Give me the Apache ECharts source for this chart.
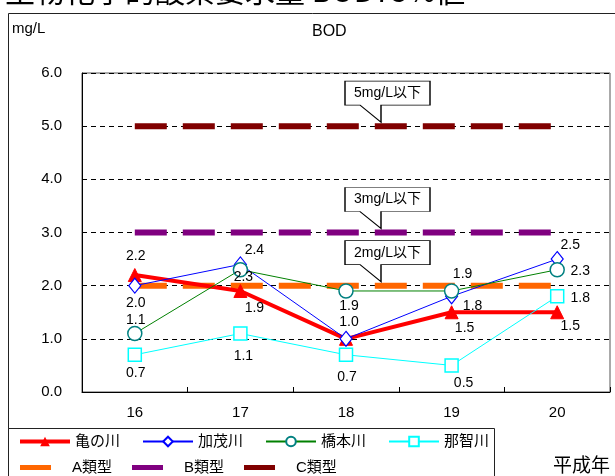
<!DOCTYPE html>
<html>
<head>
<meta charset="utf-8">
<script src="https://cdn.jsdelivr.net/npm/echarts@6/dist/echarts.min.js"></script>
<style>
html,body{margin:0;padding:0;background:#fff;}
#chart{width:615px;height:476px;}
</style>
</head>
<body>
<div id="chart"></div>
<script>
// ---- data ----
var categories = ['16', '17', '18', '19', '20'];
var kamenokawa = [2.2, 1.9, 1.0, 1.5, 1.5];
var kamogawa = [2.0, 2.4, 1.0, 1.8, 2.5];
var hashimotogawa = [1.1, 2.3, 1.9, 1.9, 2.3];
var nachigawa = [0.7, 1.1, 0.7, 0.5, 1.8];
var typeA = [2, 2, 2, 2, 2];
var typeB = [3, 3, 3, 3, 3];
var typeC = [5, 5, 5, 5, 5];
var yTicks = [0, 1, 2, 3, 4, 5, 6];

// label offsets (style only)
var offRed = [[1,-19],[14,17],[3,-17],[13,16],[13,14]];
var offBlue = [[1,17],[14,-14],null,[21,10],[13,-14]];
var offGreen = [[1,-13],[3,7],[3,15],[11,-17],[23,1]];
var offCyan = [[1,18],[3,23],[1,22],[12,18],[23,2]];

var FONT = '"Liberation Sans", "Noto Sans CJK JP", sans-serif';

function withLabels(values, offs) {
  return values.map(function (v, i) {
    var o = offs[i];
    return {
      value: v,
      label: o ? {show: true, position: 'inside', offset: o, formatter: v.toFixed(1)} : {show: false}
    };
  });
}

function callout(text, yv) {
  return {
    symbol: 'path://M0,0 H85 V24 H36 V41 L15,24 H0 Z',
    symbolSize: [85, 41],
    symbolOffset: [41.5, -24.5],
    itemStyle: {color: '#fff', borderColor: '#000', borderWidth: 1},
    label: {show: true, position: 'inside', offset: [0, -8.5], color: '#000', fontSize: 14, fontFamily: FONT},
    data: [{coord: ['18', yv], value: text}],
    silent: true,
    animation: false
  };
}

function refLine(name, data, color, text, yv) {
  return {
    name: name, type: 'line', data: data, symbol: 'none', z: 1,
    lineStyle: {color: color, width: 6, type: [32, 16]},
    itemStyle: {color: color},
    silent: true, animation: false,
    markPoint: callout(text, yv)
  };
}

var chart = echarts.init(document.getElementById('chart'), null, {renderer: 'canvas'});
var option = {
  animation: false,
  textStyle: {fontFamily: FONT},
  grid: {left: 82, right: 5, top: 73, bottom: 84, show: true, borderColor: '#555', borderWidth: 1},
  graphic: [
    {type: 'rect', shape: {x: 8.5, y: 13.5, width: 620, height: 480}, style: {fill: 'none', stroke: '#222', lineWidth: 1}, z: -10},
    {type: 'rect', shape: {x: 8.5, y: 428.5, width: 486, height: 60}, style: {fill: '#fff', stroke: '#222', lineWidth: 1}, z: -5},
    {type: 'text', left: 5, top: -24, style: {text: '生物化学的酸素要求量 BOD75%値', font: '30px "Noto Sans CJK JP", sans-serif', fill: '#000'}},
    {type: 'text', left: 12, top: 21, style: {text: 'mg/L', font: '15px ' + FONT, fill: '#000'}},
    {type: 'text', left: 312, top: 24, style: {text: 'BOD', font: '16px ' + FONT, fill: '#000'}},
    {type: 'text', left: 553, top: 455, style: {text: '平成年', font: '19px "Noto Sans CJK JP", sans-serif', fill: '#000'}}
  ],
  legend: [
    {
      data: [
        {name: '亀の川', lineStyle: {width: 4}},
        {name: '加茂川'},
        {name: '橋本川'},
        {name: '那智川'}
      ],
      left: 18, top: 434, padding: 0, itemWidth: 50, itemHeight: 12, itemGap: 22,
      textStyle: {fontSize: 15, color: '#000', width: 46, fontFamily: FONT},
      selectedMode: false
    },
    {
      data: [{name: 'A類型', icon: 'rect'}, {name: 'B類型', icon: 'rect'}, {name: 'C類型', icon: 'rect'}],
      left: 20, top: 460, padding: 0, itemWidth: 31, itemHeight: 5, itemGap: 20,
      textStyle: {fontSize: 15, color: '#000', width: 50, padding: [0, 0, 0, 16], fontFamily: FONT},
      selectedMode: false
    }
  ],
  xAxis: {
    type: 'category', data: categories, boundaryGap: true,
    axisLine: {lineStyle: {color: '#000'}},
    axisTick: {show: true, inside: true, length: 5, lineStyle: {color: '#000'}},
    axisLabel: {color: '#000', fontSize: 15, margin: 13, fontFamily: FONT}
  },
  yAxis: {
    type: 'value', min: yTicks[0], max: yTicks[yTicks.length - 1], interval: 1,
    axisLine: {show: true, lineStyle: {color: '#000'}},
    axisTick: {show: false},
    axisLabel: {color: '#000', fontSize: 15, margin: 20, fontFamily: FONT, formatter: function (v) { return v.toFixed(1); }},
    splitLine: {lineStyle: {color: '#000', type: [5, 4], width: 1}}
  },
  series: [
    refLine('A類型', typeA, '#FF6600', '2mg/L以下', 2),
    refLine('B類型', typeB, '#800080', '3mg/L以下', 3),
    refLine('C類型', typeC, '#800000', '5mg/L以下', 5),
    {
      name: '亀の川', type: 'line', data: withLabels(kamenokawa, offRed), z: 3,
      symbol: 'triangle', symbolSize: 13,
      lineStyle: {color: '#FF0000', width: 4},
      itemStyle: {color: '#FF0000', borderColor: '#FF0000'},
      label: {color: '#000', fontSize: 14, fontFamily: FONT},
      emphasis: {disabled: true}
    },
    {
      name: '加茂川', type: 'line', data: withLabels(kamogawa, offBlue), z: 4,
      symbol: 'diamond', symbolSize: [12, 15], showAllSymbol: true,
      lineStyle: {color: '#0000FF', width: 1},
      itemStyle: {color: '#fff', borderColor: '#0000FF', borderWidth: 1.2},
      label: {color: '#000', fontSize: 14, fontFamily: FONT},
      emphasis: {disabled: true}
    },
    {
      name: '橋本川', type: 'line', data: withLabels(hashimotogawa, offGreen), z: 5,
      symbol: 'circle', symbolSize: 14, showAllSymbol: true,
      lineStyle: {color: '#008000', width: 1},
      itemStyle: {color: '#fff', borderColor: '#008080', borderWidth: 1.5},
      label: {color: '#000', fontSize: 14, fontFamily: FONT},
      emphasis: {disabled: true}
    },
    {
      name: '那智川', type: 'line', data: withLabels(nachigawa, offCyan), z: 6,
      symbol: 'rect', symbolSize: 13, showAllSymbol: true,
      lineStyle: {color: '#00FFFF', width: 1},
      itemStyle: {color: '#fff', borderColor: '#00FFFF', borderWidth: 1.5},
      label: {color: '#000', fontSize: 14, fontFamily: FONT},
      emphasis: {disabled: true}
    }
  ]
};
chart.setOption(option);
</script>
</body>
</html>
